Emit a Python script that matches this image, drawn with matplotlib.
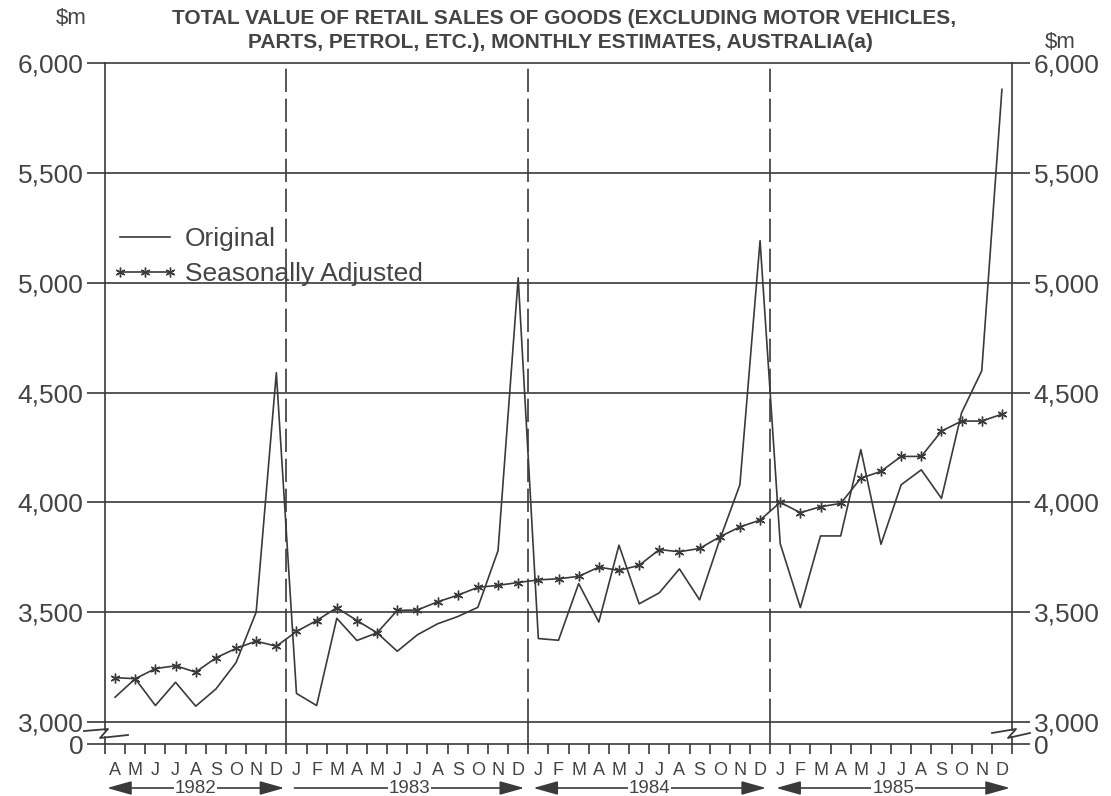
# retail sales chart, original vs seasonally adjusted

import numpy as np
import matplotlib
matplotlib.use('Agg')
import matplotlib.pyplot as plt
from matplotlib.lines import Line2D

plt.rcParams['font.family'] = ['Liberation Sans', 'DejaVu Sans']

# month labels, April 1982 .. December 1985
months = ['A', 'M', 'J', 'J', 'A', 'S', 'O', 'N', 'D'] + \
         ['J', 'F', 'M', 'A', 'M', 'J', 'J', 'A', 'S', 'O', 'N', 'D'] * 3
years = ['1982', '1983', '1984', '1985']

# $m
original = [3113, 3197, 3075, 3181, 3072, 3150, 3270, 3500, 4590,
            3130, 3075, 3472, 3371, 3406, 3322, 3397, 3447, 3480, 3522, 3780, 5022,
            3380, 3372, 3630, 3455, 3805, 3538, 3588, 3697, 3556, 3830, 4080, 5191,
            3812, 3521, 3847, 3847, 4240, 3809, 4080, 4148, 4018, 4408, 4599, 5880]
seasonal = [3202, 3197, 3243, 3256, 3227, 3292, 3335, 3368, 3345,
            3412, 3462, 3520, 3462, 3406, 3508, 3510, 3547, 3577, 3613, 3622, 3635,
            3647, 3652, 3663, 3705, 3690, 3713, 3785, 3775, 3790, 3843, 3888, 3919,
            4000, 3953, 3980, 3995, 4110, 4141, 4209, 4209, 4324, 4370, 4370, 4401]
yticks = [3000, 3500, 4000, 4500, 5000, 5500, 6000]

W, H = 1111, 796
INK = '#3a3a3a'
TXT = '#444444'


def fx(x):
    return x / W


def fy(y):
    return 1 - y / H


fig = plt.figure(figsize=(W / 100, H / 100), dpi=100)
fig.patch.set_facecolor('white')

left, right = 105, 1012
top, bot3000, bot0 = 63, 722, 744

ax = fig.add_axes([fx(left), fy(bot3000), fx(right - left), (bot3000 - top) / H])
ax0 = fig.add_axes([fx(left), fy(bot0), fx(right - left), (bot0 - bot3000) / H])

x = np.arange(len(original))
boundaries = [8.5, 20.5, 32.5]

# main panel
ax.plot(x, original, color=INK, lw=1.2, zorder=3)
ax.plot(x, seasonal, color=INK, lw=1.2, marker=(6, 2, 0), ms=7, mew=1.0, zorder=4)
for b in boundaries:
    ax.axvline(b, color=INK, lw=1.2, dashes=(14, 4), zorder=2)
for v in yticks[1:-1]:
    ax.axhline(v, color=INK, lw=1.2, zorder=1)

ax.set_xlim(-0.5, len(original) - 0.5)
ax.set_ylim(3000, 6000)
ax.set_yticks(yticks)
ax.set_yticklabels([f'{v:,}' for v in yticks])
ax.set_xticks([])
ax.tick_params(axis='y', direction='out', length=13, width=1.2, color=INK,
               labelsize=19, labelcolor=TXT, left=True, right=True,
               labelleft=True, labelright=True, pad=2.5)
for s in ax.spines.values():
    s.set_color(INK)
    s.set_linewidth(1.2)

# lower strip with the zero line and month axis
ax0.set_xlim(-0.5, len(original) - 0.5)
ax0.set_ylim(0, 1)
ax0.patch.set_alpha(0)
for b in boundaries:
    ax0.axvline(b, color=INK, lw=1.2, dashes=(14, 4))
ax0.set_yticks([0])
ax0.set_yticklabels(['0'])
ax0.tick_params(axis='y', direction='out', length=13, width=1.2, color=INK,
                labelsize=19, labelcolor=TXT, left=True, right=True,
                labelleft=True, labelright=True, pad=2.5)
ax0.set_xticks(np.arange(-0.5, len(original)), minor=False)
ax0.set_xticklabels([])
ax0.set_xticks(x, minor=True)
ax0.set_xticklabels(months, minor=True)
ax0.tick_params(axis='x', which='major', direction='out', length=7, width=1.2, color=INK)
ax0.tick_params(axis='x', which='minor', length=0, pad=13, labelsize=13, labelcolor=TXT)
for k in ['top', 'left', 'right']:
    ax0.spines[k].set_visible(False)
ax0.spines['bottom'].set_color(INK)
ax0.spines['bottom'].set_linewidth(1.2)

# frame pieces across the break
for xp in (left, right):
    fig.add_artist(Line2D([fx(xp), fx(xp)], [fy(bot3000), fy(730)], color=INK, lw=1.2))
    fig.add_artist(Line2D([fx(xp), fx(xp)], [fy(737), fy(bot0)], color=INK, lw=1.2))
fig.add_artist(Line2D([fx(84), fx(108), fx(100), fx(128)],
                      [fy(731), fy(729), fy(738), fy(735)], color=INK, lw=1.3))
fig.add_artist(Line2D([fx(992), fx(1016), fx(1008), fx(1030)],
                      [fy(733), fy(729), fy(738), fy(733)], color=INK, lw=1.3))

# year arrows
trans = ax0.get_xaxis_transform()
spans = [(-0.4, 8.4, '<|-|>'), (8.9, 20.3, '-|>'), (20.75, 32.3, '<|-|>'), (32.8, 44.4, '<|-|>')]
for yr, (a, b, st) in zip(years, spans):
    ax0.annotate('', xy=(b, -2.0), xytext=(a, -2.0), xycoords=trans, textcoords=trans,
                 arrowprops=dict(arrowstyle=st + ',head_length=1.0,head_width=0.28',
                                 color=INK, lw=1.2, mutation_scale=15,
                                 shrinkA=0, shrinkB=0), annotation_clip=False)
    ax0.text((a + b) / 2, -2.0, yr, transform=trans, ha='center', va='center',
             fontsize=13.5, color=TXT, bbox=dict(fc='white', ec='none', pad=0.5))

# legend
handles = [Line2D([], [], color=INK, lw=1.2),
           Line2D([], [], color=INK, lw=1.2, marker=(6, 2, 0), ms=7, mew=1.0)]
fig.legend(handles, ['Original', 'Seasonally Adjusted'], loc='upper left',
           bbox_to_anchor=(fx(99), fy(214)), frameon=False, fontsize=19,
           labelcolor=TXT, handlelength=2.5, handletextpad=0.25,
           labelspacing=0.42, borderpad=0, numpoints=3)

# titles and units
fig.text(0.508, fy(18), 'TOTAL VALUE OF RETAIL SALES OF GOODS (EXCLUDING MOTOR VEHICLES,',
         ha='center', va='center', fontsize=15, fontweight='bold', color=TXT)
fig.text(0.504, fy(43), 'PARTS, PETROL, ETC.), MONTHLY ESTIMATES, AUSTRALIA(a)',
         ha='center', va='center', fontsize=15, fontweight='bold', color=TXT)
fig.text(fx(71), fy(19), '$m', ha='center', va='center', fontsize=16, color=TXT)
fig.text(fx(1060), fy(43), '$m', ha='center', va='center', fontsize=16, color=TXT)

fig.savefig('out.png', dpi=100, facecolor='white')
